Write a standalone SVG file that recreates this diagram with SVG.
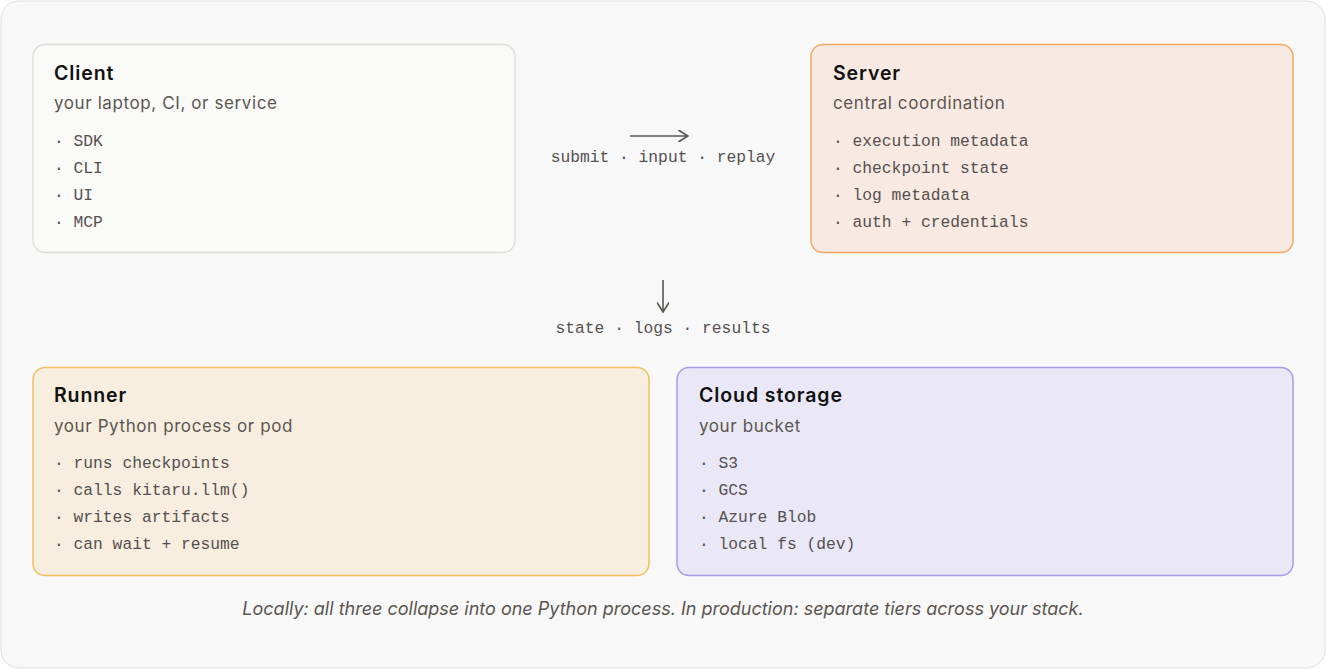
<svg xmlns="http://www.w3.org/2000/svg" width="1326" height="669" viewBox="0 0 1326 669">
<style>
.t{font-family:"Inter","Liberation Sans",sans-serif;font-size:19.5px;font-weight:600;fill:#111;letter-spacing:0.9px}
.s{font-family:"Inter","Liberation Sans",sans-serif;font-size:17px;fill:#5a5550;letter-spacing:0.6px}
.m{font-family:"Liberation Mono",monospace;font-size:16.3px;fill:#555050}
.c{stroke:#5a5550;stroke-width:1.6;fill:none}
</style>
<defs><marker id="a" viewBox="0 0 10 10" refX="9" refY="5" markerWidth="12" markerHeight="12" markerUnits="userSpaceOnUse" orient="auto"><path d="M1 0L9 5L1 10" fill="none" stroke="#5a5550" stroke-width="1.4"/></marker></defs>
<rect x="1" y="1" width="1324" height="667" rx="18" fill="#f8f8f8" stroke="#dedfd6"/>
<g id="client"><rect x="33" y="44.5" width="482" height="208" rx="12" fill="#fafaf8" stroke="#dcdcd6" stroke-width="1.3"/>
<text class="t" x="54" y="80">Client</text><text class="s" x="54" y="109">your laptop, CI, or service</text>
<text class="m" x="54" y="146">· SDK</text><text class="m" x="54" y="173">· CLI</text><text class="m" x="54" y="200">· UI</text><text class="m" x="54" y="227">· MCP</text></g>
<g id="server"><rect x="811" y="44.5" width="482" height="208" rx="12" fill="#f8eae2" stroke="#f0a866" stroke-width="1.5"/>
<text class="t" x="833" y="80">Server</text><text class="s" x="833" y="109">central coordination</text>
<text class="m" x="833" y="146">· execution metadata</text><text class="m" x="833" y="173">· checkpoint state</text><text class="m" x="833" y="200">· log metadata</text><text class="m" x="833" y="227">· auth + credentials</text></g>
<g id="runner"><rect x="33" y="367.5" width="616" height="208" rx="12" fill="#f8eedf" stroke="#f2c060" stroke-width="1.5"/>
<text class="t" x="54" y="402">Runner</text><text class="s" x="54" y="432">your Python process or pod</text>
<text class="m" x="54" y="468">· runs checkpoints</text><text class="m" x="54" y="495">· calls kitaru.llm()</text><text class="m" x="54" y="522">· writes artifacts</text><text class="m" x="54" y="549">· can wait + resume</text></g>
<g id="storage"><rect x="677" y="367.5" width="616" height="208" rx="12" fill="#eae8f7" stroke="#a49ce6" stroke-width="1.5"/>
<text class="t" x="699" y="402">Cloud storage</text><text class="s" x="699" y="432">your bucket</text>
<text class="m" x="699" y="468">· S3</text><text class="m" x="699" y="495">· GCS</text><text class="m" x="699" y="522">· Azure Blob</text><text class="m" x="699" y="549">· local fs (dev)</text></g>
<g id="connectors">
<line class="c" x1="630" y1="136" x2="688" y2="136" marker-end="url(#a)"/>
<text class="m" x="663" y="162" text-anchor="middle">submit · input · replay</text>
<line class="c" x1="663" y1="280" x2="663" y2="312" marker-end="url(#a)"/>
<text class="m" x="663" y="333" text-anchor="middle">state · logs · results</text>
</g>
<text x="663" y="615" text-anchor="middle" font-family="Inter,'Liberation Sans',sans-serif" font-size="18px" font-style="italic" fill="#5a5550">Locally: all three collapse into one Python process. In production: separate tiers across your stack.</text>
</svg>
